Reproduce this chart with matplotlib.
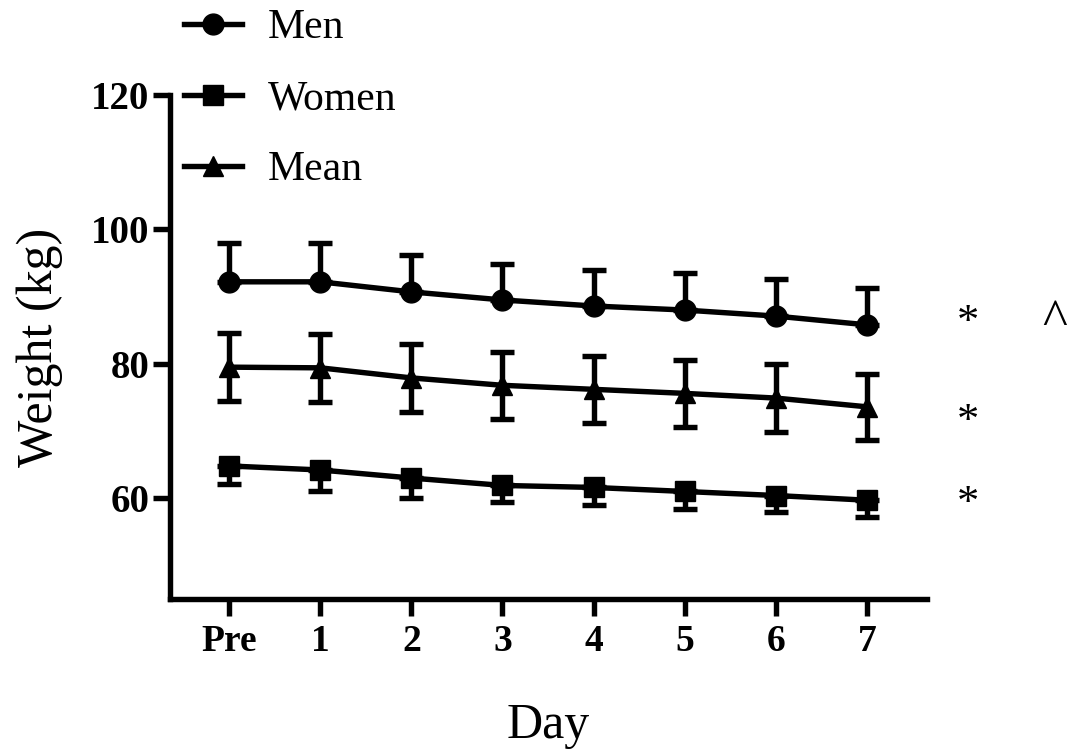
import matplotlib
matplotlib.use("Agg")
import matplotlib.pyplot as plt
from matplotlib.lines import Line2D

plt.rcParams['font.family'] = ['Liberation Serif', 'DejaVu Serif']

days = ["Pre", "1", "2", "3", "4", "5", "6", "7"]

men_mean = [92.2, 92.2, 90.7, 89.5, 88.6, 88.0, 87.1, 85.8]
men_sd = [5.8, 5.8, 5.5, 5.4, 5.4, 5.5, 5.5, 5.5]

women_mean = [64.8, 64.2, 63.0, 61.9, 61.6, 61.0, 60.4, 59.7]
women_sd = [2.7, 3.2, 2.9, 2.5, 2.6, 2.6, 2.5, 2.5]

all_mean = [79.5, 79.4, 77.9, 76.8, 76.2, 75.6, 74.9, 73.6]
all_sd = [5.1, 5.1, 5.0, 5.0, 5.0, 5.0, 5.0, 4.9]

# significance marks to the right of the series (mark, height in kg)
sig_marks = [("*", 86.1), ("*", 71.4), ("*", 59.1)]
caret_mark = ("^", 86.2)

x = list(range(len(days)))
zeros = [0] * len(days)
lw = 3.9

fig = plt.figure(figsize=(10.68, 7.49), dpi=100)
ax = fig.add_axes([170 / 1068, 1 - 599 / 749, 757 / 1068, 504 / 749])

style = dict(color='black', lw=lw, elinewidth=lw, capsize=8.5, capthick=lw,
             clip_on=False)
ax.errorbar(x, men_mean, yerr=[zeros, men_sd], marker='o', markersize=15, **style)
ax.errorbar(x, women_mean, yerr=[women_sd, zeros], marker='s', markersize=14, **style)
ax.errorbar(x, all_mean, yerr=[all_sd, all_sd], marker='^', markersize=15, **style)

ax.set_xlim(-0.65, 7.66)
ax.set_ylim(45, 120)
ax.set_xticks(x)
ax.set_xticklabels(days)
ax.set_yticks([60, 80, 100, 120])

for s in ['top', 'right']:
    ax.spines[s].set_visible(False)
for s in ['left', 'bottom']:
    ax.spines[s].set_linewidth(lw)

ax.tick_params(axis='both', length=12, width=lw, direction='out')
ax.tick_params(axis='x', pad=6)
ax.tick_params(axis='y', pad=3)
for lab in ax.get_xticklabels():
    lab.set_fontsize(27)
    lab.set_fontweight('bold')
for lab in ax.get_yticklabels():
    lab.set_fontsize(28)
    lab.set_fontweight('bold')

ax.set_xlabel("Day", fontsize=36, labelpad=31)
ax.set_ylabel("Weight (kg)", fontsize=36, labelpad=20)

for txt, yv in sig_marks:
    ax.text(8.11, yv, txt, fontsize=32, ha='center', va='center', clip_on=False)
ax.text(9.06, caret_mark[1], caret_mark[0], fontsize=38, ha='center', va='center',
        clip_on=False)

handles = [Line2D([], [], color='black', lw=lw, marker=m, markersize=ms)
           for m, ms in [('o', 15), ('s', 14), ('^', 15)]]
fig.legend(handles=handles, labels=['Men', 'Women', 'Mean'],
           loc='upper left', bbox_to_anchor=(184 / 1068, 1 - 9 / 749), frameon=False,
           fontsize=30, handlelength=1.4, handletextpad=0.62, labelspacing=0.78,
           borderpad=0.0, borderaxespad=0.0)

fig.savefig("out.png", dpi=100)
